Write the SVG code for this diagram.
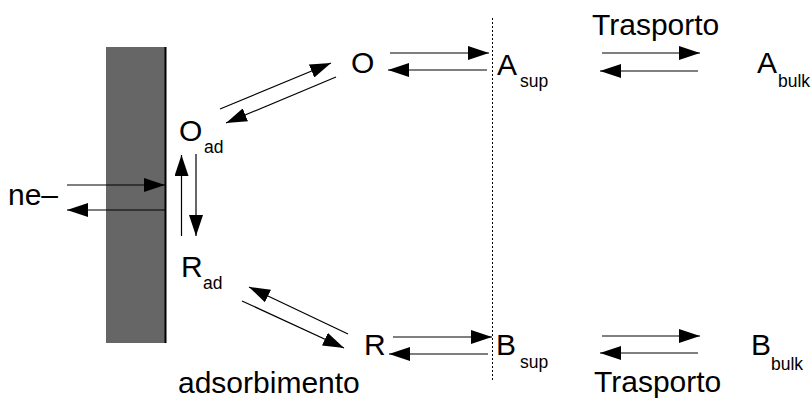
<svg xmlns="http://www.w3.org/2000/svg" width="812" height="401" viewBox="0 0 812 401">
<defs>
<marker id="ah" markerUnits="userSpaceOnUse" markerWidth="21" markerHeight="14" refX="21" refY="7" orient="auto">
<path d="M0,0 L21,7 L0,14 Z" fill="#000"/>
</marker>
</defs>
<style>
.t{font-family:"Liberation Sans",Arial,sans-serif;font-size:30px;fill:#000}
.s{font-family:"Liberation Sans",Arial,sans-serif;font-size:17.5px;fill:#000}
.c line{stroke:#000;stroke-width:1.2;marker-end:url(#ah)}
</style>
<rect width="812" height="401" fill="#fff"/>
<g id="electrode">
<rect x="106" y="47" width="59" height="296" fill="#666"/>
<line x1="165.5" y1="47" x2="165.5" y2="343" stroke="#000" stroke-width="2"/>
</g>
<line id="interface" x1="492.5" y1="18" x2="492.5" y2="382" stroke="#000" stroke-width="1" stroke-dasharray="2,2"/>
<g id="ne"><text class="t" x="8" y="205">ne–</text></g>
<g id="Oad"><text class="t" x="179" y="141">O</text><text class="s" x="204" y="153">ad</text></g>
<g id="Rad"><text class="t" x="181" y="277">R</text><text class="s" x="203" y="289">ad</text></g>
<g id="O"><text class="t" x="351" y="73">O</text></g>
<g id="R"><text class="t" x="364" y="355">R</text></g>
<g id="Asup"><text class="t" x="497" y="75">A</text><text class="s" x="520" y="87">sup</text></g>
<g id="Bsup"><text class="t" x="496" y="355">B</text><text class="s" x="520" y="368">sup</text></g>
<g id="Abulk"><text class="t" x="757" y="73">A</text><text class="s" x="778" y="87">bulk</text></g>
<g id="Bbulk"><text class="t" x="751" y="355">B</text><text class="s" x="771" y="370">bulk</text></g>
<g id="labels">
<text class="t" x="592" y="35">Trasporto</text>
<text class="t" x="594" y="392">Trasporto</text>
<text class="t" x="178" y="393">adsorbimento</text>
</g>
<g id="connectors" class="c">
<line x1="67" y1="185" x2="165" y2="185"/>
<line x1="165" y1="210" x2="67" y2="210"/>
<line x1="181.5" y1="236" x2="181.5" y2="155"/>
<line x1="196" y1="154" x2="196" y2="236"/>
<line x1="220" y1="109" x2="331" y2="63"/>
<line x1="336" y1="77" x2="226" y2="123"/>
<line x1="348" y1="334" x2="249" y2="287"/>
<line x1="242" y1="301" x2="344" y2="348"/>
<line x1="390" y1="53" x2="489" y2="53"/>
<line x1="487" y1="70" x2="388" y2="70"/>
<line x1="393" y1="337" x2="492" y2="337"/>
<line x1="488" y1="354" x2="389" y2="354"/>
<line x1="602" y1="53" x2="700" y2="53"/>
<line x1="698" y1="71" x2="600" y2="71"/>
<line x1="602" y1="336" x2="700" y2="336"/>
<line x1="698" y1="353" x2="600" y2="353"/>
</g>
</svg>
